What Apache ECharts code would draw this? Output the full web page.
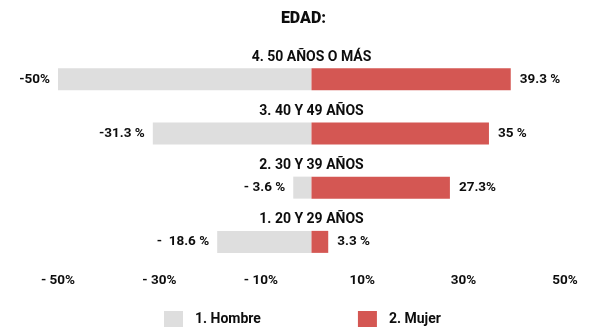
<!DOCTYPE html>
<html>
<head>
<meta charset="utf-8">
<script src="https://cdn.jsdelivr.net/npm/echarts@6/dist/echarts.min.js"></script>
<style>
  html, body { margin: 0; padding: 0; background: #fff; }
  #chart { width: 607px; height: 334px; }
</style>
</head>
<body>
<div id="chart"></div>
<script>
// Age groups, bottom to top
const categories = ['1. 20 Y 29 AÑOS', '2. 30 Y 39 AÑOS', '3. 40 Y 49 AÑOS', '4. 50 AÑOS O MÁS'];
// Share by sex (men shown as negative values)
const hombre = [-18.6, -3.6, -31.3, -50];
const mujer = [3.3, 27.3, 35, 39.3];
// Value labels as printed beside each bar
const hombreLabels = ['-  18.6 %', '- 3.6 %', '-31.3 %', '-50%'];
const mujerLabels = ['3.3 %', '27.3%', '35 %', '39.3 %'];
// Axis tick labels
const tickLabels = { '-50': '- 50%', '-30': '- 30%', '-10': '- 10%', '10': '10%', '30': '30%', '50': '50%' };

const FONT = 'Roboto';
const INK = '#0d0d0d';
const chart = echarts.init(document.getElementById('chart'));
chart.setOption({
  backgroundColor: '#ffffff',
  animation: false,
  textStyle: { fontFamily: FONT },
  title: {
    text: 'EDAD:',
    left: 'center',
    top: 6,
    textStyle: { fontFamily: FONT, fontSize: 16, fontWeight: 900, color: INK }
  },
  legend: {
    data: ['1. Hombre', '2. Mujer'],
    left: 159,
    top: 306,
    itemWidth: 19,
    itemHeight: 16,
    itemGap: 97,
    icon: 'rect',
    textStyle: { fontFamily: FONT, fontSize: 14, fontWeight: 'bold', color: INK, padding: [0, 0, 0, 7] }
  },
  grid: { left: 58, right: 42, top: 52, bottom: 65, containLabel: false },
  xAxis: {
    type: 'value',
    min: -50,
    max: 50,
    interval: 20,
    axisLine: { show: false },
    axisTick: { show: false },
    splitLine: { show: false },
    axisLabel: {
      margin: 5,
      fontFamily: FONT,
      fontSize: 13.5,
      fontWeight: 'bold',
      color: INK,
      formatter: v => tickLabels[String(v)] || ''
    }
  },
  yAxis: {
    type: 'category',
    data: categories,
    axisLine: { show: false },
    axisTick: { show: false },
    axisLabel: { show: false },
    splitLine: { show: false }
  },
  series: [
    {
      name: '1. Hombre',
      type: 'bar',
      data: hombre,
      barWidth: 22,
      barGap: '-100%',
      itemStyle: { color: '#dedede' },
      label: {
        show: true,
        position: 'left',
        distance: 8,
        fontFamily: FONT,
        fontSize: 13.5,
        fontWeight: 'bold',
        color: INK,
        formatter: p => hombreLabels[p.dataIndex]
      }
    },
    {
      name: '2. Mujer',
      type: 'bar',
      data: mujer,
      barWidth: 22,
      barGap: '-100%',
      itemStyle: { color: '#d45753' },
      label: {
        show: true,
        position: 'right',
        distance: 9,
        fontFamily: FONT,
        fontSize: 13.5,
        fontWeight: 'bold',
        color: INK,
        formatter: p => mujerLabels[p.dataIndex]
      }
    },
    {
      // zero-length bars that carry the group titles above each row
      name: 'grupo',
      type: 'bar',
      data: categories.map(() => 0),
      barWidth: 22,
      barGap: '-100%',
      itemStyle: { color: 'transparent' },
      silent: true,
      label: {
        show: true,
        position: 'top',
        distance: 4,
        fontFamily: FONT,
        fontSize: 14,
        fontWeight: 'bold',
        color: INK,
        formatter: p => categories[p.dataIndex]
      }
    }
  ]
});
</script>
</body>
</html>
